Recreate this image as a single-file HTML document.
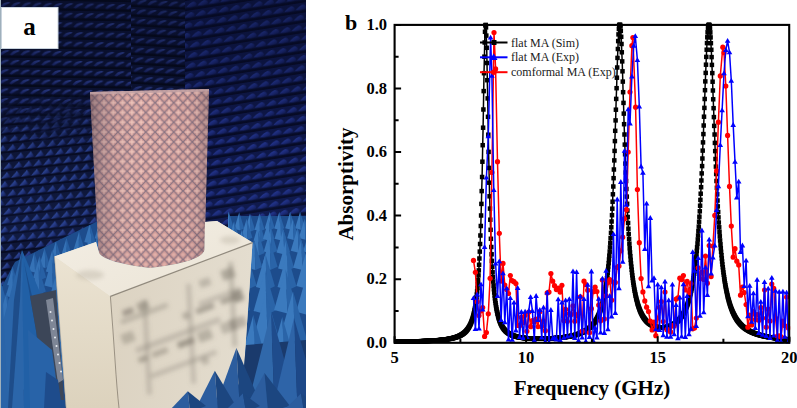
<!DOCTYPE html>
<html><head><meta charset="utf-8"><style>
html,body{margin:0;padding:0;background:#fff;width:797px;height:408px;overflow:hidden}
#photo{position:absolute;left:0;top:0;width:306px;height:408px;overflow:hidden}
#chart{position:absolute;left:0;top:0}
.tl{font-family:"Liberation Serif",serif;font-weight:bold;font-size:16px;fill:#000}
.lg{font-family:"Liberation Serif",serif;font-size:12px;fill:#1a1a1a}
</style></head><body>
<div id="photo"><svg width="306" height="408" viewBox="0 0 306 408" style="display:block">
<defs>
<linearGradient id="hl" x1="0" y1="0" x2="1" y2="1">
<stop offset="0" stop-color="#3349a0"/><stop offset="0.55" stop-color="#1c2a68"/><stop offset="1" stop-color="#111a46"/></linearGradient>
<pattern id="wallL" width="10.5" height="9.6" patternUnits="userSpaceOnUse" patternTransform="rotate(1)">
<rect width="10.5" height="9.6" fill="#0c1334"/>
<rect y="7.2" width="10.5" height="2.4" fill="#050919"/>
<path d="M0.2 6.8 Q3 2.2 8.5 2 L10.4 2.6 Q6.5 4 2.6 7.2 Z" fill="url(#hlS)"/>
</pattern>
<linearGradient id="hlS" x1="0" y1="0" x2="0" y2="1">
<stop offset="0" stop-color="#34489e"/><stop offset="1" stop-color="#172262"/></linearGradient>
<pattern id="wallL2" width="10" height="9" patternUnits="userSpaceOnUse" patternTransform="rotate(-6) skewX(-18)">
<rect width="10" height="9" fill="#0e1638"/>
<rect y="7" width="10" height="2" fill="#070b22"/>
<path d="M0.3 7 L4.8 0.6 L9.6 6.4 Z" fill="url(#hl2)"/>
</pattern>
<linearGradient id="hl2" x1="0" y1="0" x2="1" y2="0.6">
<stop offset="0" stop-color="#3d5cb8"/><stop offset="0.5" stop-color="#2a4190"/><stop offset="1" stop-color="#15205a"/></linearGradient>
<pattern id="wallT" width="10.5" height="9.6" patternUnits="userSpaceOnUse" patternTransform="rotate(3)">
<rect width="10.5" height="9.6" fill="#0c1334"/>
<rect y="7.2" width="10.5" height="2.4" fill="#050919"/>
<path d="M0.2 6.8 Q3 2.2 8.5 2 L10.4 2.6 Q6.5 4 2.6 7.2 Z" fill="url(#hlS)" opacity="0.9"/>
</pattern>
<pattern id="wallR" width="11.5" height="10" patternUnits="userSpaceOnUse" patternTransform="rotate(-9) skewX(-20)">
<rect width="11.5" height="10" fill="#0f184a"/>
<rect y="7.5" width="11.5" height="2.5" fill="#070b26"/>
<path d="M0.6 6.4 Q3 2.6 6.5 1.8 Q10 2.6 11 5.8 Q7 7.4 0.6 6.4 Z" fill="url(#hlR)"/>
</pattern>
<linearGradient id="hlR" x1="0" y1="0" x2="1" y2="1">
<stop offset="0" stop-color="#2c42a8"/><stop offset="0.6" stop-color="#1c2a78"/><stop offset="1" stop-color="#121c54"/></linearGradient>
<pattern id="cyl" width="9.3" height="9.8" patternUnits="userSpaceOnUse" x="90" y="88">
<rect width="9.3" height="9.8" fill="#85707f"/>
<path d="M0.00 -4.10L3.90 0.00L0.00 4.10L-3.90 0.00ZM9.30 -4.10L13.20 0.00L9.30 4.10L5.40 0.00ZM0.00 5.70L3.90 9.80L0.00 13.90L-3.90 9.80ZM9.30 5.70L13.20 9.80L9.30 13.90L5.40 9.80ZM4.65 0.80L8.55 4.90L4.65 9.00L0.75 4.90Z" fill="#cf9996"/>
<path d="M4.65 2.3 V7.5 M2.05 4.9 H7.25" stroke="#efc3b9" stroke-width="1.3"/>
<circle cx="0" cy="0" r="1.8" fill="#e2aea6"/><circle cx="9.3" cy="0" r="1.8" fill="#e2aea6"/><circle cx="0" cy="9.8" r="1.8" fill="#e2aea6"/><circle cx="9.3" cy="9.8" r="1.8" fill="#e2aea6"/>
</pattern>
<linearGradient id="cylshade" x1="0" y1="0" x2="1" y2="0">
<stop offset="0" stop-color="#4a3a48" stop-opacity="0.55"/>
<stop offset="0.08" stop-color="#6a5a66" stop-opacity="0.4"/>
<stop offset="0.2" stop-color="#7a6a74" stop-opacity="0.15"/>
<stop offset="0.45" stop-color="#ffffff" stop-opacity="0.04"/>
<stop offset="0.85" stop-color="#7a6a74" stop-opacity="0.08"/>
<stop offset="1" stop-color="#4a3a48" stop-opacity="0.35"/>
</linearGradient>
<linearGradient id="wallfade" x1="0" y1="0" x2="0" y2="1">
<stop offset="0" stop-color="#050920" stop-opacity="0.4"/>
<stop offset="0.3" stop-color="#050920" stop-opacity="0.25"/>
<stop offset="0.6" stop-color="#050920" stop-opacity="0.05"/>
<stop offset="1" stop-color="#2a4aa0" stop-opacity="0.1"/>
</linearGradient>
<linearGradient id="boxtop" x1="0" y1="0" x2="1" y2="1">
<stop offset="0" stop-color="#f3eee4"/><stop offset="1" stop-color="#ebe4d6"/></linearGradient>
<linearGradient id="boxleft" x1="0" y1="0" x2="0" y2="1">
<stop offset="0" stop-color="#ebe3d2"/><stop offset="1" stop-color="#dcd2bd"/></linearGradient>
<linearGradient id="boxright" x1="0" y1="0" x2="1" y2="0">
<stop offset="0" stop-color="#dcd3c2"/><stop offset="1" stop-color="#e4ddcf"/></linearGradient>
</defs>
<rect width="306" height="408" fill="#0c1334"/>
<rect x="0" y="0" width="131" height="285" fill="url(#wallL2)"/>
<linearGradient id="mgrad" x1="0" y1="0" x2="0" y2="1"><stop offset="0" stop-color="#fff"/><stop offset="0.6" stop-color="#fff"/><stop offset="1" stop-color="#000"/></linearGradient>
<mask id="mUL" maskUnits="userSpaceOnUse" x="0" y="0" width="131" height="150"><rect x="0" y="0" width="131" height="150" fill="url(#mgrad)"/></mask>
<rect x="0" y="0" width="131" height="150" fill="url(#wallL)" mask="url(#mUL)"/>
<rect x="131" y="0" width="54" height="230" fill="url(#wallT)"/>
<rect x="185" y="0" width="121" height="230" fill="url(#wallR)"/>
<rect x="0" y="0" width="306" height="240" fill="url(#wallfade)"/>
<clipPath id="clipR"><path d="M228 205 L306 205 L306 408 L228 408 Z"/></clipPath>
<g clip-path="url(#clipR)"><rect x="228" y="216" width="78" height="192" fill="#1d4c8c"/>
<path d="M219.7 213.5L214.7 230.1L220.5 231.5Z" fill="#3b7abe"/>
<path d="M219.7 213.5L220.5 231.5L224.7 229.7Z" fill="#2a64a8"/>
<path d="M228.7 211.5L223.7 228.1L229.5 229.5Z" fill="#3b7abe"/>
<path d="M228.7 211.5L229.5 229.5L233.7 227.7Z" fill="#2a64a8"/>
<path d="M239.2 212.3L234.2 228.9L240.0 230.3Z" fill="#3b7abe"/>
<path d="M239.2 212.3L240.0 230.3L244.2 228.5Z" fill="#2a64a8"/>
<path d="M250.0 213.6L245.0 230.1L250.8 231.6Z" fill="#3b7abe"/>
<path d="M250.0 213.6L250.8 231.6L255.0 229.8Z" fill="#2a64a8"/>
<path d="M259.6 213.2L254.6 229.7L260.4 231.2Z" fill="#3b7abe"/>
<path d="M259.6 213.2L260.4 231.2L264.6 229.4Z" fill="#2a64a8"/>
<path d="M269.7 211.9L264.7 228.5L270.5 229.9Z" fill="#3b7abe"/>
<path d="M269.7 211.9L270.5 229.9L274.7 228.1Z" fill="#2a64a8"/>
<path d="M279.3 212.0L274.3 228.5L280.1 230.0Z" fill="#3b7abe"/>
<path d="M279.3 212.0L280.1 230.0L284.3 228.2Z" fill="#2a64a8"/>
<path d="M290.2 211.7L285.2 228.2L291.0 229.7Z" fill="#3b7abe"/>
<path d="M290.2 211.7L291.0 229.7L295.2 227.9Z" fill="#2a64a8"/>
<path d="M300.1 211.7L295.1 228.3L300.9 229.7Z" fill="#3b7abe"/>
<path d="M300.1 211.7L300.9 229.7L305.1 227.9Z" fill="#2a64a8"/>
<path d="M309.8 212.5L304.8 229.1L310.6 230.5Z" fill="#3b7abe"/>
<path d="M309.8 212.5L310.6 230.5L314.8 228.7Z" fill="#2a64a8"/>
<path d="M224.4 218.6L218.7 237.9L225.4 239.6Z" fill="#3b7abe"/>
<path d="M224.4 218.6L225.4 239.6L230.2 237.5Z" fill="#2a64a8"/>
<path d="M234.1 221.2L228.4 240.6L235.1 242.2Z" fill="#3b7abe"/>
<path d="M234.1 221.2L235.1 242.2L239.9 240.1Z" fill="#2a64a8"/>
<path d="M246.7 218.8L240.9 238.1L247.6 239.8Z" fill="#3b7abe"/>
<path d="M246.7 218.8L247.6 239.8L252.4 237.7Z" fill="#2a64a8"/>
<path d="M259.3 221.3L253.5 240.7L260.2 242.3Z" fill="#3b7abe"/>
<path d="M259.3 221.3L260.2 242.3L265.0 240.2Z" fill="#2a64a8"/>
<path d="M268.8 219.8L263.0 239.1L269.7 240.8Z" fill="#3b7abe"/>
<path d="M268.8 219.8L269.7 240.8L274.5 238.7Z" fill="#2a64a8"/>
<path d="M280.3 219.4L274.6 238.8L281.2 240.4Z" fill="#3b7abe"/>
<path d="M280.3 219.4L281.2 240.4L286.1 238.3Z" fill="#2a64a8"/>
<path d="M292.9 219.0L287.2 238.3L293.8 240.0Z" fill="#3b7abe"/>
<path d="M292.9 219.0L293.8 240.0L298.7 237.9Z" fill="#2a64a8"/>
<path d="M304.6 218.7L298.8 238.0L305.5 239.7Z" fill="#3b7abe"/>
<path d="M304.6 218.7L305.5 239.7L310.3 237.6Z" fill="#2a64a8"/>
<path d="M314.9 220.9L309.1 240.3L315.8 241.9Z" fill="#3b7abe"/>
<path d="M314.9 220.9L315.8 241.9L320.6 239.8Z" fill="#2a64a8"/>
<path d="M215.9 229.3L209.2 252.3L217.0 254.3Z" fill="#3b7abe"/>
<path d="M215.9 229.3L217.0 254.3L222.7 251.8Z" fill="#2a64a8"/>
<path d="M229.6 228.7L222.8 251.7L230.6 253.7Z" fill="#3b7abe"/>
<path d="M229.6 228.7L230.6 253.7L236.3 251.2Z" fill="#2a64a8"/>
<path d="M241.9 229.7L235.1 252.7L242.9 254.7Z" fill="#3b7abe"/>
<path d="M241.9 229.7L242.9 254.7L248.6 252.2Z" fill="#2a64a8"/>
<path d="M257.9 230.4L251.1 253.4L259.0 255.4Z" fill="#3b7abe"/>
<path d="M257.9 230.4L259.0 255.4L264.6 252.9Z" fill="#2a64a8"/>
<path d="M270.6 228.6L263.8 251.6L271.6 253.6Z" fill="#3b7abe"/>
<path d="M270.6 228.6L271.6 253.6L277.3 251.1Z" fill="#2a64a8"/>
<path d="M283.3 229.6L276.5 252.6L284.3 254.6Z" fill="#3b7abe"/>
<path d="M283.3 229.6L284.3 254.6L290.0 252.1Z" fill="#2a64a8"/>
<path d="M297.6 227.8L290.8 250.8L298.7 252.8Z" fill="#3b7abe"/>
<path d="M297.6 227.8L298.7 252.8L304.3 250.3Z" fill="#2a64a8"/>
<path d="M309.9 228.6L303.2 251.6L311.0 253.6Z" fill="#3b7abe"/>
<path d="M309.9 228.6L311.0 253.6L316.7 251.1Z" fill="#2a64a8"/>
<path d="M223.4 240.0L215.4 267.6L224.7 270.0Z" fill="#3b7abe"/>
<path d="M223.4 240.0L224.7 270.0L231.4 267.0Z" fill="#2a64a8"/>
<path d="M236.9 241.0L228.9 268.6L238.2 271.0Z" fill="#3b7abe"/>
<path d="M236.9 241.0L238.2 271.0L244.9 268.0Z" fill="#2a64a8"/>
<path d="M254.2 240.1L246.2 267.7L255.5 270.1Z" fill="#3b7abe"/>
<path d="M254.2 240.1L255.5 270.1L262.2 267.1Z" fill="#2a64a8"/>
<path d="M269.6 239.8L261.6 267.4L270.8 269.8Z" fill="#3b7abe"/>
<path d="M269.6 239.8L270.8 269.8L277.6 266.8Z" fill="#2a64a8"/>
<path d="M286.1 240.8L278.1 268.4L287.4 270.8Z" fill="#3b7abe"/>
<path d="M286.1 240.8L287.4 270.8L294.1 267.8Z" fill="#2a64a8"/>
<path d="M301.2 240.1L293.2 267.7L302.5 270.1Z" fill="#3b7abe"/>
<path d="M301.2 240.1L302.5 270.1L309.2 267.1Z" fill="#2a64a8"/>
<path d="M317.4 240.6L309.4 268.2L318.7 270.6Z" fill="#3b7abe"/>
<path d="M317.4 240.6L318.7 270.6L325.4 267.6Z" fill="#2a64a8"/>
<path d="M208.4 253.5L198.9 286.7L209.9 289.5Z" fill="#3b7abe"/>
<path d="M208.4 253.5L209.9 289.5L217.9 285.9Z" fill="#2a64a8"/>
<path d="M228.7 252.7L219.2 285.8L230.3 288.7Z" fill="#3b7abe"/>
<path d="M228.7 252.7L230.3 288.7L238.2 285.1Z" fill="#2a64a8"/>
<path d="M247.1 253.1L237.6 286.2L248.6 289.1Z" fill="#3b7abe"/>
<path d="M247.1 253.1L248.6 289.1L256.6 285.5Z" fill="#2a64a8"/>
<path d="M265.4 253.9L255.9 287.0L266.9 289.9Z" fill="#3b7abe"/>
<path d="M265.4 253.9L266.9 289.9L274.9 286.3Z" fill="#2a64a8"/>
<path d="M287.0 253.9L277.5 287.1L288.5 289.9Z" fill="#3b7abe"/>
<path d="M287.0 253.9L288.5 289.9L296.5 286.3Z" fill="#2a64a8"/>
<path d="M305.9 253.0L296.4 286.1L307.5 289.0Z" fill="#3b7abe"/>
<path d="M305.9 253.0L307.5 289.0L315.4 285.4Z" fill="#2a64a8"/>
<path d="M324.8 253.6L315.3 286.7L326.3 289.6Z" fill="#3b7abe"/>
<path d="M324.8 253.6L326.3 289.6L334.3 286.0Z" fill="#2a64a8"/>
<path d="M218.9 272.2L207.4 312.7L220.8 316.2Z" fill="#3b7abe"/>
<path d="M218.9 272.2L220.8 316.2L230.4 311.8Z" fill="#2a64a8"/>
<path d="M238.5 270.3L227.0 310.8L240.4 314.3Z" fill="#3b7abe"/>
<path d="M238.5 270.3L240.4 314.3L250.0 309.9Z" fill="#2a64a8"/>
<path d="M265.1 270.5L253.6 311.0L266.9 314.5Z" fill="#3b7abe"/>
<path d="M265.1 270.5L266.9 314.5L276.6 310.1Z" fill="#2a64a8"/>
<path d="M285.6 269.5L274.1 310.0L287.5 313.5Z" fill="#3b7abe"/>
<path d="M285.6 269.5L287.5 313.5L297.1 309.1Z" fill="#2a64a8"/>
<path d="M307.7 271.4L296.2 311.8L309.5 315.4Z" fill="#3b7abe"/>
<path d="M307.7 271.4L309.5 315.4L319.2 311.0Z" fill="#2a64a8"/>
<path d="M211.1 292.0L197.1 341.7L213.3 346.0Z" fill="#3b7abe"/>
<path d="M211.1 292.0L213.3 346.0L225.1 340.6Z" fill="#2a64a8"/>
<path d="M233.6 291.5L219.6 341.1L235.8 345.5Z" fill="#3b7abe"/>
<path d="M233.6 291.5L235.8 345.5L247.6 340.1Z" fill="#2a64a8"/>
<path d="M265.9 293.0L251.9 342.7L268.1 347.0Z" fill="#3b7abe"/>
<path d="M265.9 293.0L268.1 347.0L279.9 341.6Z" fill="#2a64a8"/>
<path d="M293.0 291.2L279.0 340.9L295.3 345.2Z" fill="#3b7abe"/>
<path d="M293.0 291.2L295.3 345.2L307.0 339.8Z" fill="#2a64a8"/>
<path d="M320.4 291.9L306.4 341.6L322.7 345.9Z" fill="#3b7abe"/>
<path d="M320.4 291.9L322.7 345.9L334.4 340.5Z" fill="#2a64a8"/>
<path d="M216.1 317.3L199.6 376.2L218.8 381.3Z" fill="#3b7abe"/>
<path d="M216.1 317.3L218.8 381.3L232.6 374.9Z" fill="#2a64a8"/>
<path d="M253.3 315.0L236.8 373.9L255.9 379.0Z" fill="#3b7abe"/>
<path d="M253.3 315.0L255.9 379.0L269.8 372.6Z" fill="#2a64a8"/>
<path d="M282.3 317.1L265.8 376.0L285.0 381.1Z" fill="#3b7abe"/>
<path d="M282.3 317.1L285.0 381.1L298.8 374.7Z" fill="#2a64a8"/>
<path d="M315.2 317.3L298.7 376.2L317.9 381.3Z" fill="#3b7abe"/>
<path d="M315.2 317.3L317.9 381.3L331.7 374.9Z" fill="#2a64a8"/>
</g>
<clipPath id="clipL"><path d="M-10 300 L0 290 L15 262 L55 242 L100 220 L120 212 L120 408 L-10 408 Z"/></clipPath>
<g clip-path="url(#clipL)"><rect x="-10" y="210" width="130" height="198" fill="#1d4c8c"/>
<path d="M-20.0 212.4L-25.5 230.8L-19.2 232.4Z" fill="#3572b6"/>
<path d="M-20.0 212.4L-19.2 232.4L-14.5 230.4Z" fill="#2760a4"/>
<path d="M-9.5 298.6L-15.0 317.0L-8.6 318.6Z" fill="#3572b6"/>
<path d="M-9.5 298.6L-8.6 318.6L-4.0 316.6Z" fill="#2760a4"/>
<path d="M2.2 286.8L-3.3 305.2L3.1 306.8Z" fill="#3572b6"/>
<path d="M2.2 286.8L3.1 306.8L7.7 304.8Z" fill="#2760a4"/>
<path d="M12.6 266.5L7.1 284.9L13.5 286.5Z" fill="#3572b6"/>
<path d="M12.6 266.5L13.5 286.5L18.1 284.5Z" fill="#2760a4"/>
<path d="M23.0 256.5L17.5 274.9L23.8 276.5Z" fill="#3572b6"/>
<path d="M23.0 256.5L23.8 276.5L28.5 274.5Z" fill="#2760a4"/>
<path d="M34.3 252.6L28.8 271.0L35.1 272.6Z" fill="#3572b6"/>
<path d="M34.3 252.6L35.1 272.6L39.8 270.6Z" fill="#2760a4"/>
<path d="M44.6 248.1L39.1 266.5L45.5 268.1Z" fill="#3572b6"/>
<path d="M44.6 248.1L45.5 268.1L50.1 266.1Z" fill="#2760a4"/>
<path d="M56.0 240.7L50.5 259.1L56.8 260.7Z" fill="#3572b6"/>
<path d="M56.0 240.7L56.8 260.7L61.5 258.7Z" fill="#2760a4"/>
<path d="M66.5 237.9L61.0 256.3L67.4 257.9Z" fill="#3572b6"/>
<path d="M66.5 237.9L67.4 257.9L72.0 255.9Z" fill="#2760a4"/>
<path d="M79.1 231.4L73.6 249.8L79.9 251.4Z" fill="#3572b6"/>
<path d="M79.1 231.4L79.9 251.4L84.6 249.4Z" fill="#2760a4"/>
<path d="M89.8 223.6L84.3 242.0L90.7 243.6Z" fill="#3572b6"/>
<path d="M89.8 223.6L90.7 243.6L95.3 241.6Z" fill="#2760a4"/>
<path d="M100.2 219.9L94.7 238.3L101.0 239.9Z" fill="#3572b6"/>
<path d="M100.2 219.9L101.0 239.9L105.7 237.9Z" fill="#2760a4"/>
<path d="M110.7 217.1L105.2 235.5L111.6 237.1Z" fill="#3572b6"/>
<path d="M110.7 217.1L111.6 237.1L116.2 235.1Z" fill="#2760a4"/>
<path d="M122.3 211.0L116.8 229.4L123.1 231.0Z" fill="#3572b6"/>
<path d="M122.3 211.0L123.1 231.0L127.8 229.0Z" fill="#2760a4"/>
<path d="M-14.3 220.3L-20.8 242.4L-13.2 244.3Z" fill="#3572b6"/>
<path d="M-14.3 220.3L-13.2 244.3L-7.8 241.9Z" fill="#2760a4"/>
<path d="M-0.4 297.6L-6.9 319.7L0.6 321.6Z" fill="#3572b6"/>
<path d="M-0.4 297.6L0.6 321.6L6.1 319.2Z" fill="#2760a4"/>
<path d="M12.3 274.0L5.8 296.1L13.3 298.0Z" fill="#3572b6"/>
<path d="M12.3 274.0L13.3 298.0L18.8 295.6Z" fill="#2760a4"/>
<path d="M24.9 262.7L18.4 284.8L25.9 286.7Z" fill="#3572b6"/>
<path d="M24.9 262.7L25.9 286.7L31.4 284.3Z" fill="#2760a4"/>
<path d="M39.6 255.9L33.1 278.0L40.7 279.9Z" fill="#3572b6"/>
<path d="M39.6 255.9L40.7 279.9L46.1 277.5Z" fill="#2760a4"/>
<path d="M52.4 249.4L45.9 271.5L53.5 273.4Z" fill="#3572b6"/>
<path d="M52.4 249.4L53.5 273.4L58.9 271.0Z" fill="#2760a4"/>
<path d="M65.9 244.8L59.4 266.9L66.9 268.8Z" fill="#3572b6"/>
<path d="M65.9 244.8L66.9 268.8L72.4 266.4Z" fill="#2760a4"/>
<path d="M78.4 238.4L71.9 260.5L79.4 262.4Z" fill="#3572b6"/>
<path d="M78.4 238.4L79.4 262.4L84.9 260.0Z" fill="#2760a4"/>
<path d="M90.9 232.1L84.4 254.2L91.9 256.1Z" fill="#3572b6"/>
<path d="M90.9 232.1L91.9 256.1L97.4 253.7Z" fill="#2760a4"/>
<path d="M102.7 225.8L96.2 247.9L103.7 249.8Z" fill="#3572b6"/>
<path d="M102.7 225.8L103.7 249.8L109.2 247.4Z" fill="#2760a4"/>
<path d="M117.5 219.1L111.0 241.2L118.6 243.1Z" fill="#3572b6"/>
<path d="M117.5 219.1L118.6 243.1L124.0 240.7Z" fill="#2760a4"/>
<path d="M130.8 220.2L124.3 242.2L131.8 244.2Z" fill="#3572b6"/>
<path d="M130.8 220.2L131.8 244.2L137.3 241.8Z" fill="#2760a4"/>
<path d="M-23.6 227.9L-31.1 253.6L-22.4 255.9Z" fill="#3572b6"/>
<path d="M-23.6 227.9L-22.4 255.9L-16.1 253.1Z" fill="#2760a4"/>
<path d="M-8.5 316.0L-16.0 341.7L-7.3 344.0Z" fill="#3572b6"/>
<path d="M-8.5 316.0L-7.3 344.0L-1.0 341.2Z" fill="#2760a4"/>
<path d="M6.5 292.4L-1.0 318.2L7.7 320.4Z" fill="#3572b6"/>
<path d="M6.5 292.4L7.7 320.4L14.0 317.6Z" fill="#2760a4"/>
<path d="M20.6 275.8L13.1 301.6L21.8 303.8Z" fill="#3572b6"/>
<path d="M20.6 275.8L21.8 303.8L28.1 301.0Z" fill="#2760a4"/>
<path d="M38.3 266.3L30.8 292.1L39.5 294.3Z" fill="#3572b6"/>
<path d="M38.3 266.3L39.5 294.3L45.8 291.5Z" fill="#2760a4"/>
<path d="M51.8 259.7L44.3 285.5L53.0 287.7Z" fill="#3572b6"/>
<path d="M51.8 259.7L53.0 287.7L59.3 284.9Z" fill="#2760a4"/>
<path d="M67.6 251.0L60.1 276.8L68.8 279.0Z" fill="#3572b6"/>
<path d="M67.6 251.0L68.8 279.0L75.1 276.2Z" fill="#2760a4"/>
<path d="M82.2 244.9L74.7 270.6L83.4 272.9Z" fill="#3572b6"/>
<path d="M82.2 244.9L83.4 272.9L89.7 270.1Z" fill="#2760a4"/>
<path d="M97.2 236.4L89.7 262.2L98.4 264.4Z" fill="#3572b6"/>
<path d="M97.2 236.4L98.4 264.4L104.7 261.6Z" fill="#2760a4"/>
<path d="M110.9 231.2L103.4 257.0L112.1 259.2Z" fill="#3572b6"/>
<path d="M110.9 231.2L112.1 259.2L118.4 256.4Z" fill="#2760a4"/>
<path d="M128.1 227.5L120.6 253.3L129.3 255.5Z" fill="#3572b6"/>
<path d="M128.1 227.5L129.3 255.5L135.6 252.7Z" fill="#2760a4"/>
<path d="M-16.5 237.8L-25.5 269.1L-15.0 271.8Z" fill="#3572b6"/>
<path d="M-16.5 237.8L-15.0 271.8L-7.5 268.4Z" fill="#2760a4"/>
<path d="M0.7 316.7L-8.3 348.0L2.1 350.7Z" fill="#3572b6"/>
<path d="M0.7 316.7L2.1 350.7L9.7 347.3Z" fill="#2760a4"/>
<path d="M21.2 285.5L12.2 316.8L22.7 319.5Z" fill="#3572b6"/>
<path d="M21.2 285.5L22.7 319.5L30.2 316.1Z" fill="#2760a4"/>
<path d="M38.9 277.6L29.9 308.9L40.3 311.6Z" fill="#3572b6"/>
<path d="M38.9 277.6L40.3 311.6L47.9 308.2Z" fill="#2760a4"/>
<path d="M57.7 269.1L48.7 300.4L59.1 303.1Z" fill="#3572b6"/>
<path d="M57.7 269.1L59.1 303.1L66.7 299.7Z" fill="#2760a4"/>
<path d="M73.9 261.2L64.9 292.5L75.3 295.2Z" fill="#3572b6"/>
<path d="M73.9 261.2L75.3 295.2L82.9 291.8Z" fill="#2760a4"/>
<path d="M93.9 250.3L84.9 281.5L95.3 284.3Z" fill="#3572b6"/>
<path d="M93.9 250.3L95.3 284.3L102.9 280.9Z" fill="#2760a4"/>
<path d="M111.6 242.3L102.6 273.6L113.0 276.3Z" fill="#3572b6"/>
<path d="M111.6 242.3L113.0 276.3L120.6 272.9Z" fill="#2760a4"/>
<path d="M127.8 238.2L118.8 269.5L129.2 272.2Z" fill="#3572b6"/>
<path d="M127.8 238.2L129.2 272.2L136.8 268.8Z" fill="#2760a4"/>
<path d="M-27.7 250.7L-38.7 289.3L-25.9 292.7Z" fill="#3572b6"/>
<path d="M-27.7 250.7L-25.9 292.7L-16.7 288.5Z" fill="#2760a4"/>
<path d="M-2.9 333.7L-13.9 372.3L-1.1 375.7Z" fill="#3572b6"/>
<path d="M-2.9 333.7L-1.1 375.7L8.1 371.5Z" fill="#2760a4"/>
<path d="M17.7 301.7L6.7 340.3L19.5 343.7Z" fill="#3572b6"/>
<path d="M17.7 301.7L19.5 343.7L28.7 339.5Z" fill="#2760a4"/>
<path d="M37.8 289.9L26.8 328.5L39.6 331.9Z" fill="#3572b6"/>
<path d="M37.8 289.9L39.6 331.9L48.8 327.7Z" fill="#2760a4"/>
<path d="M60.9 278.9L49.9 317.5L62.6 320.9Z" fill="#3572b6"/>
<path d="M60.9 278.9L62.6 320.9L71.9 316.7Z" fill="#2760a4"/>
<path d="M82.3 267.3L71.3 306.0L84.1 309.3Z" fill="#3572b6"/>
<path d="M82.3 267.3L84.1 309.3L93.3 305.1Z" fill="#2760a4"/>
<path d="M105.1 259.2L94.1 297.8L106.8 301.2Z" fill="#3572b6"/>
<path d="M105.1 259.2L106.8 301.2L116.1 297.0Z" fill="#2760a4"/>
<path d="M129.9 252.7L118.9 291.4L131.7 294.7Z" fill="#3572b6"/>
<path d="M129.9 252.7L131.7 294.7L140.9 290.5Z" fill="#2760a4"/>
<path d="M-21.0 269.4L-34.5 317.2L-18.8 321.4Z" fill="#3572b6"/>
<path d="M-21.0 269.4L-18.8 321.4L-7.5 316.2Z" fill="#2760a4"/>
<path d="M7.5 332.7L-6.0 380.5L9.7 384.7Z" fill="#3572b6"/>
<path d="M7.5 332.7L9.7 384.7L21.0 379.5Z" fill="#2760a4"/>
<path d="M31.8 308.7L18.3 356.6L34.0 360.7Z" fill="#3572b6"/>
<path d="M31.8 308.7L34.0 360.7L45.3 355.5Z" fill="#2760a4"/>
<path d="M63.2 294.9L49.7 342.7L65.4 346.9Z" fill="#3572b6"/>
<path d="M63.2 294.9L65.4 346.9L76.7 341.7Z" fill="#2760a4"/>
<path d="M90.4 281.0L76.9 328.8L92.6 333.0Z" fill="#3572b6"/>
<path d="M90.4 281.0L92.6 333.0L103.9 327.8Z" fill="#2760a4"/>
<path d="M115.0 270.3L101.5 318.1L117.1 322.3Z" fill="#3572b6"/>
<path d="M115.0 270.3L117.1 322.3L128.5 317.1Z" fill="#2760a4"/>
<path d="M144.3 267.4L130.8 315.3L146.4 319.4Z" fill="#3572b6"/>
<path d="M144.3 267.4L146.4 319.4L157.8 314.2Z" fill="#2760a4"/>
<path d="M-39.2 288.8L-55.7 347.7L-36.5 352.8Z" fill="#3572b6"/>
<path d="M-39.2 288.8L-36.5 352.8L-22.7 346.4Z" fill="#2760a4"/>
<path d="M-7.9 374.5L-24.4 433.4L-5.3 438.5Z" fill="#3572b6"/>
<path d="M-7.9 374.5L-5.3 438.5L8.6 432.1Z" fill="#2760a4"/>
<path d="M31.3 328.4L14.8 387.3L33.9 392.4Z" fill="#3572b6"/>
<path d="M31.3 328.4L33.9 392.4L47.8 386.0Z" fill="#2760a4"/>
<path d="M61.9 315.1L45.4 373.9L64.5 379.1Z" fill="#3572b6"/>
<path d="M61.9 315.1L64.5 379.1L78.4 372.7Z" fill="#2760a4"/>
<path d="M96.6 297.9L80.1 356.8L99.3 361.9Z" fill="#3572b6"/>
<path d="M96.6 297.9L99.3 361.9L113.1 355.5Z" fill="#2760a4"/>
<path d="M125.7 287.7L109.2 346.6L128.3 351.7Z" fill="#3572b6"/>
<path d="M125.7 287.7L128.3 351.7L142.2 345.3Z" fill="#2760a4"/>
</g>
<path d="M22.0 250.0L-20.0 408.0L24.0 408.0Z" fill="#2b66aa" opacity="1"/>
<path d="M22.0 250.0L24.0 408.0L58.0 408.0L56.0 330.0Z" fill="#2160a6" opacity="1"/>
<path d="M2.0 282.0L-10.0 330.0L-10.0 408.0L8.0 408.0Z" fill="#2a64a8" opacity="1"/>
<path d="M22.0 250.0L14.0 300.0L8.0 408.0L12.0 408.0L20.0 300.0Z" fill="#163c74" opacity="0.6"/>
<path d="M24.0 262.0L40.0 330.0L46.0 408.0L42.0 408.0L36.0 330.0Z" fill="#163c74" opacity="0.5"/>
<path d="M30.0 296.0L56.0 290.0L64.0 400.0L48.0 400.0Z" fill="#3c4658" opacity="1"/>
<path d="M46.0 300.0L53.0 298.0L63.0 380.0L58.0 383.0Z" fill="#7e8696" opacity="1"/>
<circle cx="50.5" cy="312.0" r="1" fill="#e8ecf0"/>
<circle cx="52.0" cy="320.5" r="1" fill="#e8ecf0"/>
<circle cx="53.5" cy="329.0" r="1" fill="#e8ecf0"/>
<circle cx="55.0" cy="337.5" r="1" fill="#e8ecf0"/>
<circle cx="56.5" cy="346.0" r="1" fill="#e8ecf0"/>
<circle cx="58.0" cy="354.5" r="1" fill="#e8ecf0"/>
<circle cx="59.5" cy="363.0" r="1" fill="#e8ecf0"/>
<circle cx="61.0" cy="371.5" r="1" fill="#e8ecf0"/>
<path d="M28.0 330.0L52.0 350.0L60.0 408.0L30.0 408.0Z" fill="#2863a8" opacity="1"/>
<path d="M46.0 372.0L58.0 380.0L62.0 408.0L44.0 408.0Z" fill="#1e4c8c" opacity="1"/>
<path d="M90 92 L209 89 L204.5 250 Q202 262 150 268 Q99 262 98.5 251 Z" fill="url(#cyl)"/>
<path d="M90 92 L209 89 L204.5 250 Q202 262 150 268 Q99 262 98.5 251 Z" fill="url(#cylshade)"/>
<path d="M90 92 L209 89 L209 91.5 L90 94.5 Z" fill="#c2a2a4" opacity="0.85"/>
<filter id="blur2" x="-20%" y="-20%" width="140%" height="140%"><feGaussianBlur stdDeviation="2.2"/></filter>
<filter id="blur1"><feGaussianBlur stdDeviation="1"/></filter>
<path d="M54.4 256.5 L96 242 L98.5 251 Q99 262 150 268 Q202 262 204.5 250 L205 222 L217 221 L252.5 242.6 L244 368 L230 408 L66 408 Z" fill="#e4dccb"/>
<path d="M54.4 256.5 L96 242 L98.5 251 Q99 262 150 268 Q202 262 204.5 250 L205 222 L217 221 L252.5 242.6 L110.4 296.4 Z" fill="url(#boxtop)"/>
<path d="M54.4 256.5 L110.4 296.4 L119 408 L66 408 Z" fill="url(#boxleft)"/>
<clipPath id="clipBR"><path d="M110.4 296.4 L252.5 242.6 L244 368 L230 408 L119 408 Z"/></clipPath>
<path d="M110.4 296.4 L252.5 242.6 L244 368 L230 408 L119 408 Z" fill="url(#boxright)"/>
<g clip-path="url(#clipBR)"><g filter="url(#blur2)" fill="#7e776c">
<rect x="122.4" y="308.8" width="11.2" height="5.8" opacity="0.65" transform="rotate(-20.5 128.0 311.7)"/>
<rect x="121.5" y="332.5" width="13.0" height="10.4" opacity="0.38" transform="rotate(-20.5 128.0 337.7)"/>
<rect x="137.3" y="301.4" width="11.3" height="9.2" opacity="0.51" transform="rotate(-20.5 143.0 306.0)"/>
<rect x="138.3" y="356.2" width="9.3" height="5.7" opacity="0.53" transform="rotate(-20.5 143.0 359.0)"/>
<rect x="151.8" y="349.8" width="16.4" height="5.6" opacity="0.45" transform="rotate(-20.5 160.0 352.6)"/>
<rect x="182.4" y="312.4" width="7.2" height="6.6" opacity="0.42" transform="rotate(-20.5 186.0 315.7)"/>
<rect x="177.3" y="339.6" width="17.3" height="6.2" opacity="0.66" transform="rotate(-20.5 186.0 342.7)"/>
<rect x="199.3" y="278.6" width="11.3" height="8.0" opacity="0.36" transform="rotate(-20.5 205.0 282.5)"/>
<rect x="195.7" y="305.7" width="18.7" height="5.7" opacity="0.56" transform="rotate(-20.5 205.0 308.5)"/>
<rect x="197.9" y="330.4" width="14.1" height="10.4" opacity="0.42" transform="rotate(-20.5 205.0 335.5)"/>
<rect x="201.4" y="356.4" width="7.2" height="8.2" opacity="0.36" transform="rotate(-20.5 205.0 360.5)"/>
<rect x="221.5" y="268.6" width="13.0" height="10.5" opacity="0.50" transform="rotate(-20.5 228.0 273.8)"/>
<rect x="220.5" y="297.0" width="14.9" height="5.6" opacity="0.55" transform="rotate(-20.5 228.0 299.8)"/>
<rect x="220.7" y="321.5" width="14.5" height="10.7" opacity="0.37" transform="rotate(-20.5 228.0 326.8)"/>
<rect x="233.1" y="290.6" width="9.8" height="11.0" opacity="0.70" transform="rotate(-20.5 238.0 296.0)"/>
<rect x="230.1" y="317.7" width="15.9" height="10.7" opacity="0.43" transform="rotate(-20.5 238.0 323.0)"/>
<rect x="120" y="320" width="50" height="5" opacity="0.35" transform="rotate(-20.5 120 320)"/>
<rect x="135" y="348" width="90" height="6" opacity="0.30" transform="rotate(-20.5 135 348)"/>
<rect x="150" y="374" width="70" height="5" opacity="0.30" transform="rotate(-20.5 150 374)"/>
<rect x="198" y="302" width="45" height="5" opacity="0.30" transform="rotate(-20.5 198 302)"/>
<rect x="142" y="300" width="5" height="95" opacity="0.30" transform="rotate(-3 142 300)"/>
<rect x="186" y="284" width="5" height="100" opacity="0.30" transform="rotate(-3 186 284)"/>
<rect x="228" y="262" width="5" height="85" opacity="0.35" transform="rotate(-3 228 262)"/>
</g></g>
<g filter="url(#blur2)" fill="#b0a898" opacity="0.35"><ellipse cx="90" cy="275" rx="14" ry="5"/><ellipse cx="230" cy="240" rx="10" ry="4"/></g>
<path d="M110.4 296.4 L252.5 242.6" stroke="#6e675c" stroke-width="1.2" opacity="0.7"/>
<path d="M110.4 296.4 Q113 330 115 360 T119 408" stroke="#6a6256" stroke-width="1" fill="none" opacity="0.6"/>
<path d="M54.4 256.5 L66 408" stroke="#5a5a60" stroke-width="0.8" opacity="0.4"/>
<path d="M246 345 L306 340 L306 408 L240 408 Z" fill="#1a3a6c"/>
<path d="M271.0 312.0L244.0 420.0L275.0 422.0Z" fill="#3068aa"/><path d="M271.0 312.0L275.0 422.0L300.0 416.0Z" fill="#1f4c8c"/>
<path d="M294.0 318.0L270.0 420.0L298.0 422.0Z" fill="#2e64a8"/><path d="M294.0 318.0L298.0 422.0L322.0 416.0Z" fill="#1d4888"/>
<path d="M236.4 348.0L214.0 410.0L240.0 412.0Z" fill="#2c5d9e"/><path d="M236.4 348.0L240.0 412.0L262.0 406.0Z" fill="#1c4680"/>
<path d="M214.8 370.8L195.0 410.0L218.0 412.0Z" fill="#2c5d9e"/><path d="M214.8 370.8L218.0 412.0L236.0 406.0Z" fill="#1c4680"/>
<path d="M187.8 391.3L170.0 410.0L190.0 412.0Z" fill="#2c5d9e"/><path d="M187.8 391.3L190.0 412.0L206.0 406.0Z" fill="#1c4680"/>
<path d="M264.5 373.0L244.0 410.0L268.0 412.0Z" fill="#2c5d9e"/><path d="M264.5 373.0L268.0 412.0L290.0 406.0Z" fill="#1c4680"/>
<path d="M242.9 393.4L226.0 410.0L246.0 412.0Z" fill="#2c5d9e"/><path d="M242.9 393.4L246.0 412.0L260.0 406.0Z" fill="#1c4680"/>
<path d="M301.0 393.4L284.0 410.0L304.0 412.0Z" fill="#2c5d9e"/><path d="M301.0 393.4L304.0 412.0L318.0 406.0Z" fill="#1c4680"/>
<rect x="0" y="0" width="1" height="408" fill="#9fb0bc"/>
<rect x="1.5" y="7.5" width="56.5" height="41" fill="#fff" stroke="#c8d2dc" stroke-width="1"/>
<text x="29.5" y="35" text-anchor="middle" style="font-family:'Liberation Serif',serif;font-weight:bold;font-size:25px">a</text>
</svg></div>
<svg id="chart" width="797" height="408" viewBox="0 0 797 408">
<defs>
<marker id="msq" markerUnits="userSpaceOnUse" markerWidth="7" markerHeight="7" refX="3.5" refY="3.5"><rect x="1.25" y="1.25" width="4.5" height="4.5" fill="#000"/></marker>
<marker id="mci" markerUnits="userSpaceOnUse" markerWidth="7" markerHeight="7" refX="3.5" refY="3.5"><circle cx="3.5" cy="3.5" r="2.6" fill="#f00"/></marker>
<marker id="mtr" markerUnits="userSpaceOnUse" markerWidth="8" markerHeight="8" refX="4" refY="4"><path d="M4 1.2L6.8 6H1.2Z" fill="#00f"/></marker>
<clipPath id="pc"><rect x="394.6" y="16.9" width="395.6" height="326.90000000000003"/></clipPath>
</defs>
<text x="345" y="29.5" class="tl" style="font-size:22px">b</text>
<g clip-path="url(#pc)">
<polyline points="394.6,341.8 394.9,341.8 395.3,341.8 395.6,341.8 395.9,341.8 396.2,341.8 396.6,341.8 396.9,341.8 397.2,341.8 397.6,341.8 397.9,341.8 398.2,341.8 398.5,341.8 398.9,341.8 399.2,341.8 399.5,341.8 399.9,341.8 400.2,341.8 400.5,341.7 400.8,341.7 401.2,341.7 401.5,341.7 401.8,341.7 402.2,341.7 402.5,341.7 402.8,341.7 403.1,341.7 403.5,341.7 403.8,341.7 404.1,341.7 404.5,341.7 404.8,341.7 405.1,341.7 405.5,341.7 405.8,341.6 406.1,341.6 406.4,341.6 406.8,341.6 407.1,341.6 407.4,341.6 407.8,341.6 408.1,341.6 408.4,341.6 408.7,341.6 409.1,341.6 409.4,341.6 409.7,341.6 410.1,341.6 410.4,341.5 410.7,341.5 411.0,341.5 411.4,341.5 411.7,341.5 412.0,341.5 412.4,341.5 412.7,341.5 413.0,341.5 413.3,341.5 413.7,341.5 414.0,341.5 414.3,341.4 414.7,341.4 415.0,341.4 415.3,341.4 415.6,341.4 416.0,341.4 416.3,341.4 416.6,341.4 417.0,341.4 417.3,341.4 417.6,341.3 417.9,341.3 418.3,341.3 418.6,341.3 418.9,341.3 419.3,341.3 419.6,341.3 419.9,341.3 420.2,341.3 420.6,341.2 420.9,341.2 421.2,341.2 421.6,341.2 421.9,341.2 422.2,341.2 422.6,341.2 422.9,341.2 423.2,341.1 423.5,341.1 423.9,341.1 424.2,341.1 424.5,341.1 424.9,341.1 425.2,341.1 425.5,341.0 425.8,341.0 426.2,341.0 426.5,341.0 426.8,341.0 427.2,341.0 427.5,341.0 427.8,340.9 428.1,340.9 428.5,340.9 428.8,340.9 429.1,340.9 429.5,340.9 429.8,340.8 430.1,340.8 430.4,340.8 430.8,340.8 431.1,340.8 431.4,340.7 431.8,340.7 432.1,340.7 432.4,340.7 432.7,340.7 433.1,340.6 433.4,340.6 433.7,340.6 434.1,340.6 434.4,340.6 434.7,340.5 435.0,340.5 435.4,340.5 435.7,340.5 436.0,340.4 436.4,340.4 436.7,340.4 437.0,340.4 437.3,340.3 437.7,340.3 438.0,340.3 438.3,340.2 438.7,340.2 439.0,340.2 439.3,340.2 439.7,340.1 440.0,340.1 440.3,340.1 440.6,340.0 441.0,340.0 441.3,340.0 441.6,339.9 442.0,339.9 442.3,339.9 442.6,339.8 442.9,339.8 443.3,339.7 443.6,339.7 443.9,339.7 444.3,339.6 444.6,339.6 444.9,339.5 445.2,339.5 445.6,339.5 445.9,339.4 446.2,339.4 446.6,339.3 446.9,339.3 447.2,339.2 447.5,339.2 447.9,339.1 448.2,339.0 448.5,339.0 448.9,338.9 449.2,338.9 449.5,338.8 449.8,338.8 450.2,338.7 450.5,338.6 450.8,338.6 451.2,338.5 451.5,338.4 451.8,338.3 452.1,338.3 452.5,338.2 452.8,338.1 453.1,338.0 453.5,337.9 453.8,337.9 454.1,337.8 454.4,337.7 454.8,337.6 455.1,337.5 455.4,337.4 455.8,337.3 456.1,337.2 456.4,337.1 456.7,336.9 457.1,336.8 457.4,336.7 457.7,336.6 458.1,336.4 458.4,336.3 458.7,336.2 459.1,336.0 459.4,335.9 459.7,335.7 460.0,335.6 460.4,335.4 460.7,335.2 461.0,335.0 461.4,334.8 461.7,334.6 462.0,334.4 462.3,334.2 462.7,334.0 463.0,333.8 463.3,333.5 463.7,333.3 464.0,333.0 464.3,332.7 464.6,332.5 465.0,332.2 465.3,331.8 465.6,331.5 466.0,331.2 466.3,330.8 466.6,330.4 466.9,330.0 467.3,329.6 467.6,329.2 467.9,328.7 468.3,328.2 468.6,327.7 468.9,327.2 469.2,326.6 469.6,326.0 469.9,325.4 470.2,324.7 470.6,324.0 470.9,323.2 471.2,322.4 471.5,321.5 471.9,320.6 472.2,319.6 472.5,318.6 472.9,317.4 473.2,316.2 473.5,314.9 473.8,313.5 474.2,312.0 474.5,310.4 474.8,308.7 475.2,306.8 475.5,304.7 475.8,302.5 476.2,300.1 476.5,297.4 476.8,294.6 477.1,291.4 477.5,288.0 477.8,284.2 478.1,280.0 478.5,275.4 478.8,270.4 479.1,264.8 479.4,258.5 479.8,251.6 480.1,244.0 480.4,235.5 480.8,226.0 481.1,215.5 481.4,203.9 481.7,191.1 482.1,177.0 482.4,161.7 482.7,145.2 483.1,127.7 483.4,109.5 483.7,91.1 484.0,73.2 484.4,56.7 484.7,42.5 485.0,31.8 485.4,25.4 485.7,24.9 486.0,27.4 486.3,35.6 486.7,47.8 487.0,63.0 487.3,80.2 487.7,98.4 488.0,116.8 488.3,134.7 488.6,151.9 489.0,167.9 489.3,182.7 489.6,196.3 490.0,208.6 490.3,219.7 490.6,229.8 490.9,238.8 491.3,247.0 491.6,254.3 491.9,260.9 492.3,266.9 492.6,272.3 492.9,277.1 493.2,281.5 493.6,285.5 493.9,289.2 494.2,292.5 494.6,295.5 494.9,298.3 495.2,300.8 495.6,303.1 495.9,305.3 496.2,307.3 496.5,309.1 496.9,310.8 497.2,312.3 497.5,313.8 497.9,315.1 498.2,316.4 498.5,317.5 498.8,318.6 499.2,319.6 499.5,320.6 499.8,321.5 500.2,322.3 500.5,323.1 500.8,323.8 501.1,324.5 501.5,325.2 501.8,325.8 502.1,326.4 502.5,326.9 502.8,327.5 503.1,327.9 503.4,328.4 503.8,328.9 504.1,329.3 504.4,329.7 504.8,330.0 505.1,330.4 505.4,330.8 505.7,331.1 506.1,331.4 506.4,331.7 506.7,332.0 507.1,332.2 507.4,332.5 507.7,332.7 508.0,333.0 508.4,333.2 508.7,333.4 509.0,333.6 509.4,333.8 509.7,334.0 510.0,334.2 510.3,334.4 510.7,334.5 511.0,334.7 511.3,334.9 511.7,335.0 512.0,335.2 512.3,335.3 512.7,335.4 513.0,335.6 513.3,335.7 513.6,335.8 514.0,335.9 514.3,336.0 514.6,336.1 515.0,336.2 515.3,336.3 515.6,336.4 515.9,336.5 516.3,336.6 516.6,336.7 516.9,336.8 517.3,336.8 517.6,336.9 517.9,337.0 518.2,337.1 518.6,337.1 518.9,337.2 519.2,337.3 519.6,337.3 519.9,337.4 520.2,337.4 520.5,337.5 520.9,337.6 521.2,337.6 521.5,337.7 521.9,337.7 522.2,337.8 522.5,337.8 522.8,337.8 523.2,337.9 523.5,337.9 523.8,338.0 524.2,338.0 524.5,338.0 524.8,338.1 525.1,338.1 525.5,338.1 525.8,338.2 526.1,338.2 526.5,338.2 526.8,338.3 527.1,338.3 527.4,338.3 527.8,338.3 528.1,338.4 528.4,338.4 528.8,338.4 529.1,338.4 529.4,338.5 529.8,338.5 530.1,338.5 530.4,338.5 530.7,338.5 531.1,338.5 531.4,338.6 531.7,338.6 532.1,338.6 532.4,338.6 532.7,338.6 533.0,338.6 533.4,338.6 533.7,338.6 534.0,338.7 534.4,338.7 534.7,338.7 535.0,338.7 535.3,338.7 535.7,338.7 536.0,338.7 536.3,338.7 536.7,338.7 537.0,338.7 537.3,338.7 537.6,338.7 538.0,338.7 538.3,338.7 538.6,338.7 539.0,338.7 539.3,338.7 539.6,338.7 539.9,338.7 540.3,338.7 540.6,338.7 540.9,338.7 541.3,338.7 541.6,338.7 541.9,338.7 542.2,338.7 542.6,338.7 542.9,338.7 543.2,338.7 543.6,338.7 543.9,338.7 544.2,338.7 544.5,338.7 544.9,338.6 545.2,338.6 545.5,338.6 545.9,338.6 546.2,338.6 546.5,338.6 546.8,338.6 547.2,338.6 547.5,338.6 547.8,338.5 548.2,338.5 548.5,338.5 548.8,338.5 549.2,338.5 549.5,338.5 549.8,338.5 550.1,338.4 550.5,338.4 550.8,338.4 551.1,338.4 551.5,338.4 551.8,338.4 552.1,338.3 552.4,338.3 552.8,338.3 553.1,338.3 553.4,338.2 553.8,338.2 554.1,338.2 554.4,338.2 554.7,338.2 555.1,338.1 555.4,338.1 555.7,338.1 556.1,338.1 556.4,338.0 556.7,338.0 557.0,338.0 557.4,337.9 557.7,337.9 558.0,337.9 558.4,337.9 558.7,337.8 559.0,337.8 559.3,337.8 559.7,337.7 560.0,337.7 560.3,337.6 560.7,337.6 561.0,337.6 561.3,337.5 561.6,337.5 562.0,337.5 562.3,337.4 562.6,337.4 563.0,337.3 563.3,337.3 563.6,337.3 563.9,337.2 564.3,337.2 564.6,337.1 564.9,337.1 565.3,337.0 565.6,337.0 565.9,336.9 566.3,336.9 566.6,336.8 566.9,336.8 567.2,336.7 567.6,336.7 567.9,336.6 568.2,336.5 568.6,336.5 568.9,336.4 569.2,336.4 569.5,336.3 569.9,336.2 570.2,336.2 570.5,336.1 570.9,336.0 571.2,336.0 571.5,335.9 571.8,335.8 572.2,335.7 572.5,335.7 572.8,335.6 573.2,335.5 573.5,335.4 573.8,335.4 574.1,335.3 574.5,335.2 574.8,335.1 575.1,335.0 575.5,334.9 575.8,334.8 576.1,334.7 576.4,334.6 576.8,334.5 577.1,334.4 577.4,334.3 577.8,334.2 578.1,334.1 578.4,334.0 578.7,333.9 579.1,333.7 579.4,333.6 579.7,333.5 580.1,333.4 580.4,333.2 580.7,333.1 581.0,333.0 581.4,332.8 581.7,332.7 582.0,332.5 582.4,332.4 582.7,332.2 583.0,332.1 583.4,331.9 583.7,331.7 584.0,331.6 584.3,331.4 584.7,331.2 585.0,331.0 585.3,330.8 585.7,330.6 586.0,330.4 586.3,330.2 586.6,330.0 587.0,329.8 587.3,329.6 587.6,329.3 588.0,329.1 588.3,328.9 588.6,328.6 588.9,328.3 589.3,328.1 589.6,327.8 589.9,327.5 590.3,327.2 590.6,326.9 590.9,326.6 591.2,326.3 591.6,325.9 591.9,325.6 592.2,325.2 592.6,324.8 592.9,324.5 593.2,324.1 593.5,323.7 593.9,323.2 594.2,322.8 594.5,322.3 594.9,321.9 595.2,321.4 595.5,320.9 595.8,320.3 596.2,319.8 596.5,319.2 596.8,318.6 597.2,318.0 597.5,317.4 597.8,316.7 598.1,316.0 598.5,315.3 598.8,314.5 599.1,313.8 599.5,312.9 599.8,312.1 600.1,311.2 600.4,310.3 600.8,309.3 601.1,308.3 601.4,307.2 601.8,306.1 602.1,305.0 602.4,303.7 602.8,302.5 603.1,301.1 603.4,299.7 603.7,298.2 604.1,296.7 604.4,295.0 604.7,293.3 605.1,291.5 605.4,289.5 605.7,287.5 606.0,285.4 606.4,283.1 606.7,280.7 607.0,278.2 607.4,275.5 607.7,272.7 608.0,269.7 608.3,266.5 608.7,263.1 609.0,259.5 609.3,255.7 609.7,251.7 610.0,247.4 610.3,242.8 610.6,238.0 611.0,232.8 611.3,227.3 611.6,221.5 612.0,215.2 612.3,208.7 612.6,201.7 612.9,194.3 613.3,186.5 613.6,178.2 613.9,169.5 614.3,160.4 614.6,150.9 614.9,141.1 615.2,130.8 615.6,120.4 615.9,109.7 616.2,98.9 616.6,88.2 616.9,77.7 617.2,67.5 617.5,57.9 617.9,49.0 618.2,41.1 618.5,34.4 618.9,29.0 619.2,25.1 619.5,24.9 619.9,24.9 620.2,24.9 620.5,26.4 620.8,30.9 621.2,36.8 621.5,44.0 621.8,52.3 622.2,61.4 622.5,71.3 622.8,81.6 623.1,92.2 623.5,102.9 623.8,113.6 624.1,124.2 624.5,134.5 624.8,144.6 625.1,154.3 625.4,163.6 625.8,172.5 626.1,181.0 626.4,189.0 626.8,196.6 627.1,203.8 627.4,210.6 627.7,217.0 628.1,223.0 628.4,228.7 628.7,234.0 629.1,239.0 629.4,243.7 629.7,248.2 630.0,252.3 630.4,256.2 630.7,259.9 631.0,263.4 631.4,266.7 631.7,269.7 632.0,272.6 632.3,275.4 632.7,277.9 633.0,280.4 633.3,282.7 633.7,284.9 634.0,286.9 634.3,288.9 634.6,290.7 635.0,292.4 635.3,294.1 635.6,295.7 636.0,297.2 636.3,298.6 636.6,299.9 637.0,301.2 637.3,302.4 637.6,303.6 637.9,304.7 638.3,305.7 638.6,306.7 638.9,307.7 639.3,308.6 639.6,309.5 639.9,310.3 640.2,311.1 640.6,311.9 640.9,312.6 641.2,313.3 641.6,313.9 641.9,314.6 642.2,315.2 642.5,315.8 642.9,316.3 643.2,316.9 643.5,317.4 643.9,317.9 644.2,318.3 644.5,318.8 644.8,319.2 645.2,319.6 645.5,320.0 645.8,320.4 646.2,320.8 646.5,321.1 646.8,321.5 647.1,321.8 647.5,322.1 647.8,322.4 648.1,322.7 648.5,323.0 648.8,323.2 649.1,323.5 649.4,323.7 649.8,324.0 650.1,324.2 650.4,324.4 650.8,324.6 651.1,324.8 651.4,325.0 651.7,325.2 652.1,325.3 652.4,325.5 652.7,325.6 653.1,325.8 653.4,325.9 653.7,326.1 654.0,326.2 654.4,326.3 654.7,326.4 655.0,326.5 655.4,326.6 655.7,326.7 656.0,326.8 656.4,326.9 656.7,327.0 657.0,327.1 657.3,327.1 657.7,327.2 658.0,327.2 658.3,327.3 658.7,327.3 659.0,327.4 659.3,327.4 659.6,327.4 660.0,327.5 660.3,327.5 660.6,327.5 661.0,327.5 661.3,327.5 661.6,327.5 661.9,327.5 662.3,327.5 662.6,327.5 662.9,327.5 663.3,327.5 663.6,327.5 663.9,327.4 664.2,327.4 664.6,327.4 664.9,327.3 665.2,327.3 665.6,327.2 665.9,327.1 666.2,327.1 666.5,327.0 666.9,326.9 667.2,326.9 667.5,326.8 667.9,326.7 668.2,326.6 668.5,326.5 668.8,326.4 669.2,326.3 669.5,326.2 669.8,326.1 670.2,325.9 670.5,325.8 670.8,325.7 671.1,325.5 671.5,325.4 671.8,325.2 672.1,325.0 672.5,324.9 672.8,324.7 673.1,324.5 673.5,324.3 673.8,324.1 674.1,323.9 674.4,323.7 674.8,323.5 675.1,323.2 675.4,323.0 675.8,322.8 676.1,322.5 676.4,322.2 676.7,322.0 677.1,321.7 677.4,321.4 677.7,321.1 678.1,320.7 678.4,320.4 678.7,320.1 679.0,319.7 679.4,319.3 679.7,319.0 680.0,318.6 680.4,318.2 680.7,317.7 681.0,317.3 681.3,316.8 681.7,316.4 682.0,315.9 682.3,315.4 682.7,314.9 683.0,314.3 683.3,313.7 683.6,313.2 684.0,312.5 684.3,311.9 684.6,311.3 685.0,310.6 685.3,309.9 685.6,309.1 685.9,308.4 686.3,307.6 686.6,306.7 686.9,305.9 687.3,305.0 687.6,304.0 687.9,303.1 688.2,302.1 688.6,301.0 688.9,299.9 689.2,298.7 689.6,297.5 689.9,296.3 690.2,295.0 690.5,293.6 690.9,292.2 691.2,290.7 691.5,289.1 691.9,287.5 692.2,285.8 692.5,284.0 692.9,282.1 693.2,280.2 693.5,278.1 693.8,275.9 694.2,273.7 694.5,271.3 694.8,268.8 695.2,266.2 695.5,263.4 695.8,260.5 696.1,257.5 696.5,254.2 696.8,250.9 697.1,247.3 697.5,243.6 697.8,239.6 698.1,235.5 698.4,231.1 698.8,226.6 699.1,221.7 699.4,216.7 699.8,211.3 700.1,205.7 700.4,199.9 700.7,193.7 701.1,187.2 701.4,180.5 701.7,173.4 702.1,166.1 702.4,158.5 702.7,150.6 703.0,142.4 703.4,134.1 703.7,125.5 704.0,116.7 704.4,107.9 704.7,99.0 705.0,90.2 705.3,81.4 705.7,72.9 706.0,64.7 706.3,56.9 706.7,49.7 707.0,43.1 707.3,37.3 707.6,32.4 708.0,28.4 708.3,25.5 708.6,24.9 709.0,24.9 709.3,24.9 709.6,25.6 710.0,28.5 710.3,32.5 710.6,37.4 710.9,43.2 711.3,49.8 711.6,57.1 711.9,64.9 712.3,73.1 712.6,81.7 712.9,90.5 713.2,99.3 713.6,108.2 713.9,117.1 714.2,125.9 714.6,134.5 714.9,142.9 715.2,151.1 715.5,159.0 715.9,166.6 716.2,174.0 716.5,181.0 716.9,187.8 717.2,194.3 717.5,200.5 717.8,206.4 718.2,212.0 718.5,217.4 718.8,222.5 719.2,227.3 719.5,231.9 719.8,236.3 720.1,240.5 720.5,244.4 720.8,248.2 721.1,251.8 721.5,255.2 721.8,258.4 722.1,261.5 722.4,264.4 722.8,267.2 723.1,269.9 723.4,272.4 723.8,274.8 724.1,277.1 724.4,279.3 724.7,281.4 725.1,283.4 725.4,285.3 725.7,287.1 726.1,288.8 726.4,290.5 726.7,292.1 727.1,293.6 727.4,295.1 727.7,296.5 728.0,297.8 728.4,299.1 728.7,300.3 729.0,301.5 729.4,302.6 729.7,303.7 730.0,304.8 730.3,305.8 730.7,306.7 731.0,307.7 731.3,308.6 731.7,309.4 732.0,310.3 732.3,311.1 732.6,311.8 733.0,312.6 733.3,313.3 733.6,314.0 734.0,314.7 734.3,315.3 734.6,315.9 734.9,316.5 735.3,317.1 735.6,317.7 735.9,318.2 736.3,318.8 736.6,319.3 736.9,319.8 737.2,320.3 737.6,320.7 737.9,321.2 738.2,321.6 738.6,322.0 738.9,322.4 739.2,322.8 739.5,323.2 739.9,323.6 740.2,324.0 740.5,324.3 740.9,324.7 741.2,325.0 741.5,325.3 741.8,325.6 742.2,326.0 742.5,326.3 742.8,326.6 743.2,326.8 743.5,327.1 743.8,327.4 744.1,327.6 744.5,327.9 744.8,328.1 745.1,328.4 745.5,328.6 745.8,328.9 746.1,329.1 746.5,329.3 746.8,329.5 747.1,329.7 747.4,329.9 747.8,330.1 748.1,330.3 748.4,330.5 748.8,330.7 749.1,330.9 749.4,331.1 749.7,331.2 750.1,331.4 750.4,331.6 750.7,331.7 751.1,331.9 751.4,332.0 751.7,332.2 752.0,332.3 752.4,332.5 752.7,332.6 753.0,332.8 753.4,332.9 753.7,333.0 754.0,333.2 754.3,333.3 754.7,333.4 755.0,333.6 755.3,333.7 755.7,333.8 756.0,333.9 756.3,334.0 756.6,334.1 757.0,334.2 757.3,334.3 757.6,334.5 758.0,334.6 758.3,334.7 758.6,334.8 758.9,334.9 759.3,334.9 759.6,335.0 759.9,335.1 760.3,335.2 760.6,335.3 760.9,335.4 761.2,335.5 761.6,335.6 761.9,335.7 762.2,335.7 762.6,335.8 762.9,335.9 763.2,336.0 763.6,336.0 763.9,336.1 764.2,336.2 764.5,336.3 764.9,336.3 765.2,336.4 765.5,336.5 765.9,336.5 766.2,336.6 766.5,336.7 766.8,336.7 767.2,336.8 767.5,336.9 767.8,336.9 768.2,337.0 768.5,337.0 768.8,337.1 769.1,337.2 769.5,337.2 769.8,337.3 770.1,337.3 770.5,337.4 770.8,337.4 771.1,337.5 771.4,337.5 771.8,337.6 772.1,337.6 772.4,337.7 772.8,337.7 773.1,337.8 773.4,337.8 773.7,337.9 774.1,337.9 774.4,338.0 774.7,338.0 775.1,338.0 775.4,338.1 775.7,338.1 776.0,338.2 776.4,338.2 776.7,338.3 777.0,338.3 777.4,338.3 777.7,338.4 778.0,338.4 778.3,338.4 778.7,338.5 779.0,338.5 779.3,338.6 779.7,338.6 780.0,338.6 780.3,338.7 780.7,338.7 781.0,338.7 781.3,338.8 781.6,338.8 782.0,338.8 782.3,338.9 782.6,338.9 783.0,338.9 783.3,339.0 783.6,339.0 783.9,339.0 784.3,339.1 784.6,339.1 784.9,339.1 785.3,339.1 785.6,339.2 785.9,339.2 786.2,339.2 786.6,339.3 786.9,339.3 787.2,339.3 787.6,339.3 787.9,339.4 788.2,339.4 788.5,339.4 788.9,339.4 789.2,339.5" fill="none" stroke="#000" stroke-width="1.5" marker-mid="url(#msq)"/>
<polyline points="473.5,260.4 475.4,272.3 477.2,301.7 479.0,315.6 480.9,311.1 482.7,307.6 484.6,336.4 486.4,332.5 488.3,313.8 490.1,278.3 491.9,172.4 494.0,32.5 495.6,68.9 497.5,161.7 499.3,233.3 501.1,281.1 503.0,263.4 504.8,285.1 506.7,289.5 508.5,293.5 510.3,275.6 512.2,280.7 514.0,281.7 515.9,283.5 517.7,325.5 519.6,325.7 521.4,317.4 523.2,322.6 525.1,315.2 526.9,331.3 528.8,312.0 530.6,326.7 532.4,320.6 534.3,321.9 536.1,319.2 538.0,326.6 539.8,311.7 541.7,326.6 543.5,321.1 545.3,330.7 547.2,292.9 549.0,292.0 550.9,273.6 552.7,281.2 554.5,285.7 556.4,289.6 558.2,288.0 560.1,292.1 561.9,285.3 563.8,320.6 565.6,309.4 567.4,321.3 569.3,313.6 571.1,314.4 573.0,305.8 574.8,321.2 576.6,315.9 578.5,313.6 580.3,296.9 582.2,331.2 584.0,281.2 585.8,284.7 587.7,290.2 589.5,332.7 591.4,308.7 593.2,291.7 595.1,287.2 596.9,291.5 598.7,305.1 600.6,320.8 602.4,280.0 604.3,318.9 606.1,295.9 607.9,282.4 609.8,279.5 611.6,300.2 613.5,282.2 615.3,282.4 617.2,267.4 619.0,266.1 620.8,250.8 622.7,237.2 624.5,218.7 626.4,209.7 628.2,152.0 630.0,92.0 631.9,45.7 632.9,37.6 635.6,107.2 637.4,189.5 639.3,242.7 641.1,278.5 642.9,291.9 644.8,300.9 646.6,307.2 648.5,311.6 650.3,321.0 652.1,329.9 654.0,322.1 655.8,335.7 657.7,318.0 659.5,307.4 661.3,301.6 663.2,321.5 665.0,292.0 666.9,329.7 668.7,329.8 670.6,331.9 672.4,325.7 674.2,325.9 676.1,299.1 677.9,297.9 679.8,278.2 681.6,279.6 683.4,275.5 685.3,289.9 687.1,281.4 689.0,292.7 690.8,283.6 692.7,328.8 694.5,328.0 696.3,318.1 698.2,267.8 700.0,278.6 701.9,272.2 703.7,279.5 705.5,256.0 707.4,283.2 709.2,245.6 711.1,276.6 712.9,246.1 714.8,215.4 716.6,170.9 718.4,122.2 720.3,75.9 722.8,47.2 724.0,52.7 725.8,86.1 727.6,135.4 729.5,186.4 731.3,226.1 733.2,257.2 735.0,248.7 736.8,261.2 738.7,264.9 740.5,295.2 742.4,287.0 744.2,292.5 746.1,304.5 747.9,327.2 749.7,315.2 751.6,324.9 753.4,311.7 755.3,319.7 757.1,314.5 758.9,320.2 760.8,307.6 762.6,318.0 764.5,290.1 766.3,327.2 768.2,309.2 770.0,320.9 771.8,284.0 773.7,288.3 775.5,318.1 777.4,336.0 779.2,335.9 781.0,336.7 782.9,321.2 784.7,325.6 786.6,297.1 788.4,327.9" fill="none" stroke="#f00" stroke-width="1.5" stroke-linejoin="round" marker-start="url(#mci)" marker-mid="url(#mci)" marker-end="url(#mci)"/>
<polyline points="473.5,298.0 475.4,329.1 477.2,294.4 479.0,328.6 480.9,284.3 482.7,309.5 484.6,246.9 486.4,177.6 488.3,136.3 490.6,37.6 491.9,75.8 493.8,190.1 495.6,263.6 497.5,296.1 499.3,261.2 501.1,320.1 503.0,273.2 504.8,322.3 506.7,288.3 508.5,339.5 510.3,298.0 512.2,339.7 514.0,302.6 515.9,330.4 517.7,287.9 519.6,336.9 521.4,311.9 523.2,338.1 525.1,311.5 526.9,337.1 528.8,310.7 530.6,297.1 532.4,310.9 534.3,340.3 536.1,295.9 538.0,319.9 539.8,309.9 541.7,337.4 543.5,307.4 545.3,341.5 547.2,292.6 549.0,342.1 550.9,309.9 552.7,338.5 554.5,337.8 556.4,339.5 558.2,299.3 560.1,340.1 561.9,302.5 563.8,337.8 565.6,300.3 567.4,336.5 569.3,299.0 571.1,335.5 573.0,271.2 574.8,337.9 576.6,272.0 578.5,340.4 580.3,296.2 582.2,337.6 584.0,299.0 585.8,341.2 587.7,284.8 589.5,336.9 591.4,271.4 593.2,340.8 595.1,327.7 596.9,337.5 598.7,298.7 600.6,332.5 602.4,278.5 604.3,332.9 606.1,270.7 607.9,329.2 609.8,295.9 611.6,316.6 613.5,234.0 615.3,312.9 617.2,199.4 619.0,288.3 620.8,181.9 622.7,261.8 624.5,150.7 626.4,204.8 628.2,109.3 630.0,123.5 631.9,76.4 633.7,45.8 635.3,36.0 637.4,60.1 639.3,106.5 641.1,166.4 642.9,172.8 644.8,248.9 646.6,203.5 648.5,286.2 650.3,217.9 652.1,280.5 654.0,278.1 655.8,329.2 657.7,284.5 659.5,329.9 661.3,287.3 663.2,335.2 665.0,281.5 666.9,336.8 668.7,300.2 670.6,336.8 672.4,284.6 674.2,334.3 676.1,305.0 677.9,338.3 679.8,297.5 681.6,336.6 683.4,284.3 685.3,336.9 687.1,296.1 689.0,334.2 690.8,328.7 692.7,252.1 694.5,270.7 696.3,326.1 698.2,258.1 700.0,315.8 701.9,230.4 703.7,312.3 705.5,267.4 707.4,295.0 709.2,239.5 711.1,273.4 712.9,257.6 714.8,245.6 716.6,210.1 718.4,186.2 720.3,145.1 722.1,110.3 724.0,73.3 725.8,49.9 727.6,40.8 729.5,52.3 731.3,80.8 733.2,124.9 735.0,161.8 736.8,197.4 738.7,181.5 740.5,251.9 742.4,245.4 744.2,286.0 746.1,260.6 747.9,316.2 749.7,285.8 751.6,321.8 753.4,293.3 755.3,328.0 757.1,279.7 758.9,332.9 760.8,301.7 762.6,334.8 764.5,282.0 766.3,336.1 768.2,288.5 770.0,338.0 771.8,277.8 773.7,335.5 775.5,290.7 777.4,340.2 779.2,291.7 781.0,341.6 782.9,291.5 784.7,336.7 786.6,292.5 788.4,341.8" fill="none" stroke="#00f" stroke-width="1.5" stroke-linejoin="round" marker-start="url(#mtr)" marker-mid="url(#mtr)" marker-end="url(#mtr)"/>
</g>
<rect x="394.6" y="24.9" width="394.6" height="317.90000000000003" fill="none" stroke="#000" stroke-width="2.1"/>
<path d="M394.6 342.8H401.1M394.6 311.0H398.6M394.6 279.2H401.1M394.6 247.4H398.6M394.6 215.6H401.1M394.6 183.8H398.6M394.6 152.1H401.1M394.6 120.3H398.6M394.6 88.5H401.1M394.6 56.7H398.6M394.6 24.9H401.1M394.6 342.8V336.3M460.4 342.8V338.8M526.1 342.8V336.3M591.9 342.8V338.8M657.7 342.8V336.3M723.4 342.8V338.8M789.2 342.8V336.3" stroke="#000" stroke-width="2" fill="none"/>
<text x="387" y="347.9" text-anchor="end" class="tl" style="font-size:16.5px">0.0</text><text x="387" y="284.3" text-anchor="end" class="tl" style="font-size:16.5px">0.2</text><text x="387" y="220.7" text-anchor="end" class="tl" style="font-size:16.5px">0.4</text><text x="387" y="157.2" text-anchor="end" class="tl" style="font-size:16.5px">0.6</text><text x="387" y="93.6" text-anchor="end" class="tl" style="font-size:16.5px">0.8</text><text x="387" y="30.0" text-anchor="end" class="tl" style="font-size:16.5px">1.0</text>
<text x="394.6" y="363" text-anchor="middle" class="tl" style="font-size:16.5px">5</text><text x="526.1" y="363" text-anchor="middle" class="tl" style="font-size:16.5px">10</text><text x="657.7" y="363" text-anchor="middle" class="tl" style="font-size:16.5px">15</text><text x="789.2" y="363" text-anchor="middle" class="tl" style="font-size:16.5px">20</text>
<g>
<path d="M480 42.5H507.5" stroke="#000" stroke-width="2"/><rect x="491.5" y="40" width="5" height="5" fill="#000"/>
<path d="M480 57.3H507.5" stroke="#00f" stroke-width="2"/><path d="M493.7 53.3L497.5 60H489.9Z" fill="#00f"/>
<path d="M480 72.2H507.5" stroke="#f00" stroke-width="2"/><circle cx="493.7" cy="72.2" r="2.8" fill="#f00"/>
<text x="511" y="46.5" class="lg">flat MA (Sim)</text>
<text x="511" y="61.2" class="lg">flat MA (Exp)</text>
<text x="511" y="76" class="lg">comformal MA (Exp)</text>
</g>
<text x="592" y="395" text-anchor="middle" class="tl" style="font-size:21px">Frequency (GHz)</text>
<text transform="translate(352.5,184) rotate(-90)" text-anchor="middle" class="tl" style="font-size:21px">Absorptivity</text>
</svg>
</body></html>
